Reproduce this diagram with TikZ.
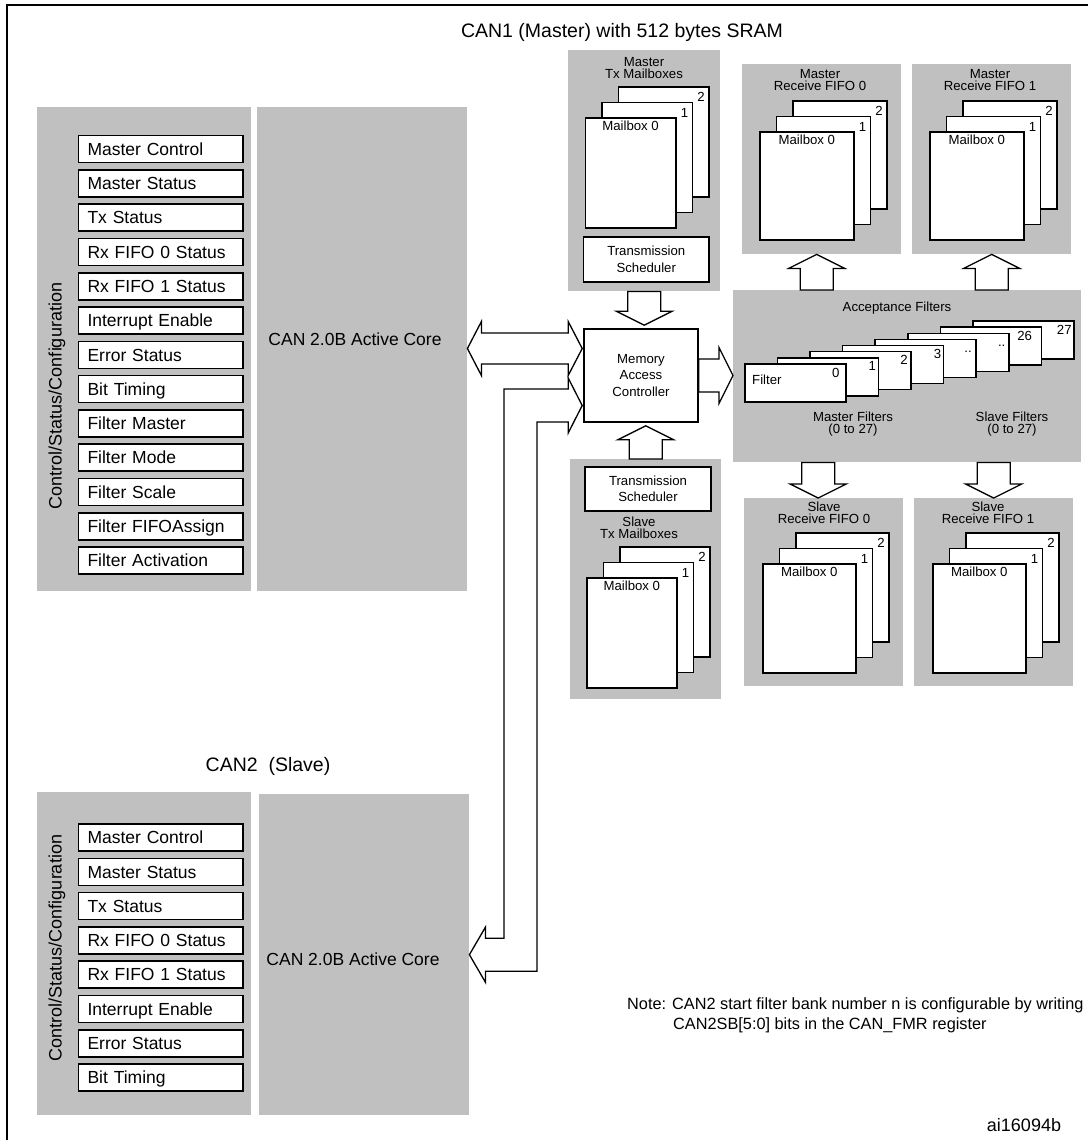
\documentclass[tikz,border=0pt]{standalone}
\usepackage{fontspec}
\setmainfont{Liberation Sans}
\usetikzlibrary{calc}
\definecolor{panelgray}{RGB}{192,192,192}
\tikzset{
  panel/.style={fill=panelgray, anchor=north west, inner sep=0pt},
  size/.style 2 args={minimum width=#1pt, minimum height=#2pt},
  reg/.style={draw, fill=white, line width=1.6pt, minimum width=164.5pt, minimum height=27pt,
    text width=146.5pt, inner xsep=9pt, inner ysep=0pt, align=left,
    text height=12.5pt, text depth=0pt, font=\fontsize{17.5}{20}\selectfont},
  card/.style={draw, fill=white, line width=1.6pt, anchor=north west, inner sep=0pt},
  box/.style={draw, fill=white, line width=1.6pt, inner sep=0pt, align=center,
    font=\fontsize{13.2}{16.5}\selectfont},
  title/.style={inner sep=0pt, font=\fontsize{19.5}{22}\selectfont},
  big/.style={inner sep=0pt, font=\fontsize{17.5}{20}\selectfont},
  small/.style={inner sep=0pt, align=center, font=\fontsize{13.2}{12}\selectfont},
  num/.style={inner sep=0pt, font=\fontsize{13.2}{14}\selectfont},
  arrowline/.style={draw, fill=white, line width=1.3pt, line join=miter},
  blockarrow/.style={arrowline, to path={
    ($(\tikztostart)!16.5pt!90:(\tikztotarget)$)
    -- ($(\tikztotarget)!14pt!(\tikztostart)!16.5pt!-90:(\tikztostart)$)
    -- ($(\tikztotarget)!14pt!(\tikztostart)!28pt!-90:(\tikztostart)$)
    -- (\tikztotarget)
    -- ($(\tikztotarget)!14pt!(\tikztostart)!28pt!90:(\tikztostart)$)
    -- ($(\tikztotarget)!14pt!(\tikztostart)!16.5pt!90:(\tikztostart)$)
    -- ($(\tikztostart)!16.5pt!-90:(\tikztotarget)$) -- cycle}},
  dblockarrow/.style={arrowline, to path={
    (\tikztostart)
    -- ($(\tikztostart)!14pt!(\tikztotarget)!27pt!90:(\tikztotarget)$)
    -- ($(\tikztostart)!14pt!(\tikztotarget)!15.5pt!90:(\tikztotarget)$)
    -- ($(\tikztotarget)!14pt!(\tikztostart)!15.5pt!-90:(\tikztostart)$)
    -- ($(\tikztotarget)!14pt!(\tikztostart)!27pt!-90:(\tikztostart)$)
    -- (\tikztotarget)
    -- ($(\tikztotarget)!14pt!(\tikztostart)!27pt!90:(\tikztostart)$)
    -- ($(\tikztotarget)!14pt!(\tikztostart)!15.5pt!90:(\tikztostart)$)
    -- ($(\tikztostart)!14pt!(\tikztotarget)!15.5pt!-90:(\tikztotarget)$)
    -- ($(\tikztostart)!14pt!(\tikztotarget)!27pt!-90:(\tikztotarget)$)
    -- cycle}}
}
\begin{document}
\begin{tikzpicture}[x=1pt, y=-1pt]
\useasboundingbox (0,0) rectangle (1087,1140);
\draw[line width=2pt] (7,1160) |- (1110,5);

% CAN1 (master)
\node[title] (can1) at (622,32) {CAN1 (Master) with 512 bytes SRAM};
\node[panel, size={214}{484}] (mctl) at (37,107) {};
\node[panel, size={210}{484}] (mcore) at (257,107) {};
\node[big, rotate=90, font=\fontsize{18}{20}\selectfont] at (57,396) {Control/Status/Configuration};
\node[big] at (355,339) {CAN 2.0B Active Core};
\foreach \t [count=\i from 0] in {Master Control, Master Status, Tx Status, Rx FIFO 0 Status,
    Rx FIFO 1 Status, Interrupt Enable, Error Status, Bit Timing, Filter Master, Filter Mode,
    Filter Scale, Filter FIFOAssign, Filter Activation}
  \node[reg] (mreg\i) at (160.75,149+34.3*\i) {\t};

% CAN2 (slave)
\node[title] (can2) at (268,766) {CAN2\ \ (Slave)};
\node[panel, size={214}{323}] (sctl) at (37,792) {};
\node[panel, size={210}{321}] (score) at (259,794) {};
\node[big, rotate=90, font=\fontsize{18}{20}\selectfont] at (57,948) {Control/Status/Configuration};
\node[big] at (353,959) {CAN 2.0B Active Core};
\foreach \t [count=\i from 0] in {Master Control, Master Status, Tx Status, Rx FIFO 0 Status,
    Rx FIFO 1 Status, Interrupt Enable, Error Status, Bit Timing}
  \node[reg] (sreg\i) at (160.75,837.5+34.3*\i) {\t};

% mailboxes
\node[panel, size={152}{241}] (mtx) at (568,50) {};
\node[panel, size={159}{190}] (mrx0) at (742,64) {};
\node[panel, size={159}{190}] (mrx1) at (912,64) {};
\node[panel, size={151}{240}] (stx) at (570,459) {};
\node[panel, size={159}{188}] (srx0) at (744,498) {};
\node[panel, size={159}{188}] (srx1) at (914,498) {};
\node[small] at (644,68) {Master\\Tx Mailboxes};
\node[small] at (820,80) {Master\\Receive FIFO 0};
\node[small] at (990,80) {Master\\Receive FIFO 1};
\node[small] at (639,528) {Slave\\Tx Mailboxes};
\node[small] at (824,513) {Slave\\Receive FIFO 0};
\node[small] at (988,513) {Slave\\Receive FIFO 1};
\foreach \s/\x/\y/\w/\h in {mtx/584.5/117/90.5/110, mrx0/759/131/94/108, mrx1/929/131/94/108,
    stx/586/577/90/110, srx0/762/563/93/109, srx1/932/563/93/109} {
  \foreach \k in {2,1} {
    \node[card, size={\w}{\h}] (\s-\k) at (\x+16.5*\k,\y-15.5*\k) {};
    \node[num] at ([xshift=-8.5pt,yshift=-11pt]\s-\k.north east) {\k};
  }
  \node[card, size={\w}{\h}] (\s-0) at (\x,\y) {};
  \node[small, anchor=north] at ([yshift=-4pt]\s-0.north) {Mailbox 0};
}
\node[box, size={125.5}{45}] (msch) at (646.25,259.5) {Transmission\\Scheduler};
\node[box, size={126}{44}] (ssch) at (648,489) {Transmission\\Scheduler};
\node[box, size={114}{93}] (mac) at (641,375.5) {Memory\\Access\\Controller};

% acceptance filters
\node[panel, size={348}{172}] (acc) at (733,290) {};
\node[small] at (897,308) {Acceptance Filters};
\foreach \k/\lab/\dx in {7/27/3, 6/26/10, 5/{..}/4, 4/{..}/5, 3/3/3, 2/2/4, 1/1/3, 0/0/7} {
  \node[card, size={101}{38}] (filt-\k) at (744+32.6*\k,363-6.1*\k) {};
  \node[num, anchor=base east] at ([xshift=-\dx*1pt,yshift=-14pt]filt-\k.north east) {\lab};
}
\node[small, anchor=west] at ([xshift=8pt,yshift=3pt]filt-0.west) {Filter};
\node[small] at (853,424) {Master Filters\\(0 to 27)};
\node[small] at (1012,424) {Slave Filters\\(0 to 27)};

% block arrows
\coordinate (mtip) at ($(mtx.south |- mac.north)+(0,-3)$);
\draw[blockarrow] (mtx.south) to (mtip);
\coordinate (stip) at ($(stx.north |- mac.south)+(0,3)$);
\draw[blockarrow] (stx.north) to (stip);
\draw[blockarrow] (mac.east) to (acc.west |- mac.east);
\coordinate (mr0) at ($(mrx0.south)+(-5,0)$);
\draw[blockarrow] (acc.north -| mr0) to (mr0);
\draw[blockarrow] (acc.north -| mrx1.south) to (mrx1.south);
\coordinate (sr0) at ($(srx0.north)+(-5.5,0)$);
\draw[blockarrow] (acc.south -| sr0) to (sr0);
\draw[blockarrow] (acc.south -| srx1.north) to (srx1.north);
\coordinate (dtop) at ($(mac.west)+(-1,-27)$);
\draw[dblockarrow] (mcore.east |- dtop) to (dtop);
\coordinate (btop) at ($(mac.west)+(-1,30)$);
\coordinate (bx) at (520.5,0);
\draw[arrowline] (btop) -- ++(-14,-27.5) -- ++(0,11) -- ($(bx |- btop)+(-16.5,-16.5)$)
  -- ($(bx |- score.east)+(-16.5,-16.5)$) -- ($(score.east)+(16,-16.5)$) -- ++(0,-11)
  -- (score.east) -- ++(16,27.5) -- ++(0,-11) -- ($(bx |- score.east)+(16.5,16.5)$)
  -- ($(bx |- btop)+(16.5,16.5)$) -- ($(btop)+(-14,16.5)$) -- ++(0,11) -- cycle;

% note
\node[anchor=west, align=left, inner sep=0pt, font=\fontsize{16.3}{20}\selectfont] (note) at (627,1015)
  {Note: CAN2 start filter bank number n is configurable by writing\\
   \hspace*{46pt}CAN2SB[5:0] bits in the CAN\_FMR register};
\node[inner sep=0pt, font=\fontsize{18}{20}\selectfont] (code) at (1024,1125) {ai16094b};
\end{tikzpicture}
\end{document}
